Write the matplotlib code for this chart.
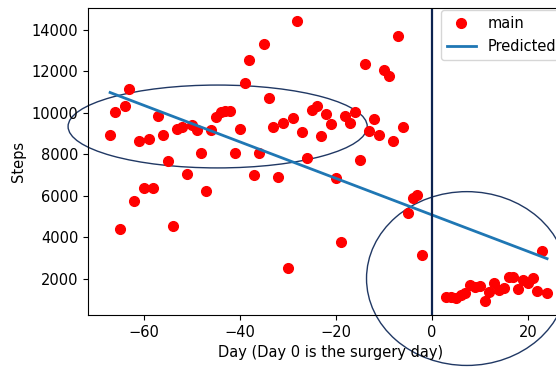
import matplotlib
matplotlib.use("Agg")
import matplotlib.pyplot as plt
from matplotlib.patches import Ellipse
import numpy as np

plt.rcParams['font.size'] = 10.5

# daily step counts before surgery (days -67 .. -2)
pre_days = list(range(-67, -1))
pre_steps = [8950, 10030, 4380, 10350, 11150, 5750, 8630, 6380, 8750, 6380,
             9870, 8950, 7690, 4520, 9230, 9310, 7030, 9390, 9150, 8070,
             6220, 9150, 9790, 10030, 10110, 10110, 8070, 9240, 11430, 12570,
             6980, 8050, 13330, 10720, 9310, 6920, 9520, 2500, 9730, 14410,
             9050, 7820, 10140, 10340, 8880, 9920, 9440, 6860, 3780, 9870,
             9500, 10040, 7740, 12360, 9100, 9720, 8950, 12080, 11800, 8620,
             13730, 9310, 5180, 5910, 6040, 3160]

# after surgery (days 3 .. 24)
post_days = list(range(3, 25))
post_steps = [1110, 1110, 1080, 1200, 1280, 1700, 1580, 1630, 920, 1340,
              1770, 1440, 1520, 2090, 2080, 1480, 1920, 1770, 2010, 1400,
              3320, 1320]

pred_days = [-67, 24]
pred_steps = [10980, 2960]

days = pre_days + post_days
steps = pre_steps + post_steps

fig = plt.figure(figsize=(5.56, 3.67), dpi=100)
ax = fig.add_axes([0.1583, 0.1417, 0.874, 0.8365])

ax.plot(days, steps, 'o', color='red', markersize=7, label='main')
ax.plot(pred_days, pred_steps, color='#1f77b4', linewidth=2, label='Predicted')
ax.axvline(0, color='#0c2350', linewidth=1.6)

ax.set_xlim(-71.6, 29.6)
ax.set_ylim(240, 15060)
ax.set_xticks([-60, -40, -20, 0, 20])
ax.set_yticks([2000, 4000, 6000, 8000, 10000, 12000, 14000])
ax.set_xlabel('Day (Day 0 is the surgery day)')
ax.set_ylabel('Steps')
# legend sits in the top right, partly cut off by the figure edge
ax.legend(loc='upper left', bbox_to_anchor=(0.793, 0.973),
          bbox_transform=fig.transFigure, borderaxespad=0, labelspacing=0.6)

# hand-drawn highlight ellipses
ax.add_patch(Ellipse((-44.6, 9340), 62.3, 4000, fill=False,
                     edgecolor='#203864', linewidth=1.0, clip_on=False))
ax.add_patch(Ellipse((7.3, 2000), 41.8, 8390, fill=False,
                     edgecolor='#203864', linewidth=1.0, clip_on=False))

fig.savefig('out.png', dpi=100)
